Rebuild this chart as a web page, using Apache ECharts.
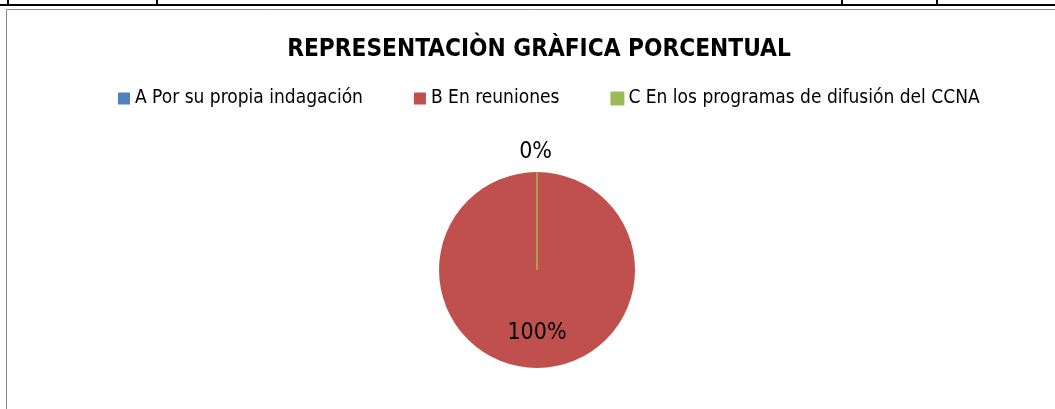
<!DOCTYPE html>
<html>
<head>
<meta charset="utf-8">
<script src="https://cdn.jsdelivr.net/npm/echarts@6/dist/echarts.min.js"></script>
<style>
  html, body { margin: 0; padding: 0; background: #fff; }
  #chart { width: 1055px; height: 409px; }
</style>
</head>
<body>
<div id="chart"></div>
<script>
// datos del grafico
const categorias = ['A Por su propia indagación', 'B En reuniones', 'C En los programas de difusión del CCNA'];
const valores = [0, 100, 0];
const etiquetas = ['0%', '100%', '0%'];
const colores = ['#4F81BD', '#C0504D', '#9BBB59'];

var dom = document.getElementById('chart');
var myChart = echarts.init(dom, null, { renderer: 'canvas' });

const labelFont = 'Liberation Sans Narrow, DejaVu Sans Condensed, Liberation Sans, sans-serif';

const option = {
    animation: false,
    title: {
        text: 'REPRESENTACIÒN GRÀFICA PORCENTUAL',
        left: 534,
        textAlign: 'center',
        top: 33,
        textStyle: {
            fontFamily: labelFont,
            fontWeight: 'bold',
            fontSize: 24.2,
            color: '#000'
        }
    },
    legend: {
        data: categorias,
        left: 113,
        top: 84,
        itemWidth: 12,
        itemHeight: 12,
        itemGap: 51,
        icon: 'rect',
        textStyle: {
            fontFamily: labelFont,
            fontSize: 19,
            color: '#000'
        }
    },
    graphic: [
        // borde de la tabla superior
        { type: 'line', shape: { x1: 0, y1: 5, x2: 1055, y2: 5 }, style: { stroke: '#000', lineWidth: 2 } },
        { type: 'line', shape: { x1: 8, y1: 0, x2: 8, y2: 5 }, style: { stroke: '#000', lineWidth: 2 } },
        { type: 'line', shape: { x1: 157, y1: 0, x2: 157, y2: 5 }, style: { stroke: '#000', lineWidth: 2 } },
        { type: 'line', shape: { x1: 842, y1: 0, x2: 842, y2: 5 }, style: { stroke: '#000', lineWidth: 2 } },
        { type: 'line', shape: { x1: 937, y1: 0, x2: 937, y2: 5 }, style: { stroke: '#000', lineWidth: 2 } },
        // marco del grafico
        { type: 'rect', shape: { x: 6.5, y: 9.5, width: 1100, height: 500 }, style: { fill: 'none', stroke: '#8a8a8a', lineWidth: 1 } }
    ],
    series: [
        {
            type: 'pie',
            center: [537, 270],
            radius: 98,
            startAngle: 90,
            clockwise: true,
            stillShowZeroSum: true,
            avoidLabelOverlap: false,
            emphasis: { disabled: true },
            label: {
                fontFamily: labelFont,
                fontSize: 23,
                color: '#000'
            },
            labelLine: { show: false },
            data: [
                {
                    name: categorias[0], value: valores[0],
                    itemStyle: { color: colores[0] },
                    label: { show: true, position: 'outside', formatter: etiquetas[0], distanceToLabelLine: 0, offset: [15, -12] },
                    labelLine: { show: false, length: 8, length2: 0 }
                },
                {
                    name: categorias[1], value: valores[1],
                    itemStyle: { color: colores[1] },
                    label: { show: true, position: 'inside', formatter: etiquetas[1], offset: [0, 11] }
                },
                {
                    name: categorias[2], value: valores[2],
                    itemStyle: { color: colores[2], borderColor: colores[2], borderWidth: 1 },
                    label: { show: false }
                }
            ]
        }
    ]
};

myChart.setOption(option);
window.addEventListener('resize', myChart.resize);
</script>
</body>
</html>
